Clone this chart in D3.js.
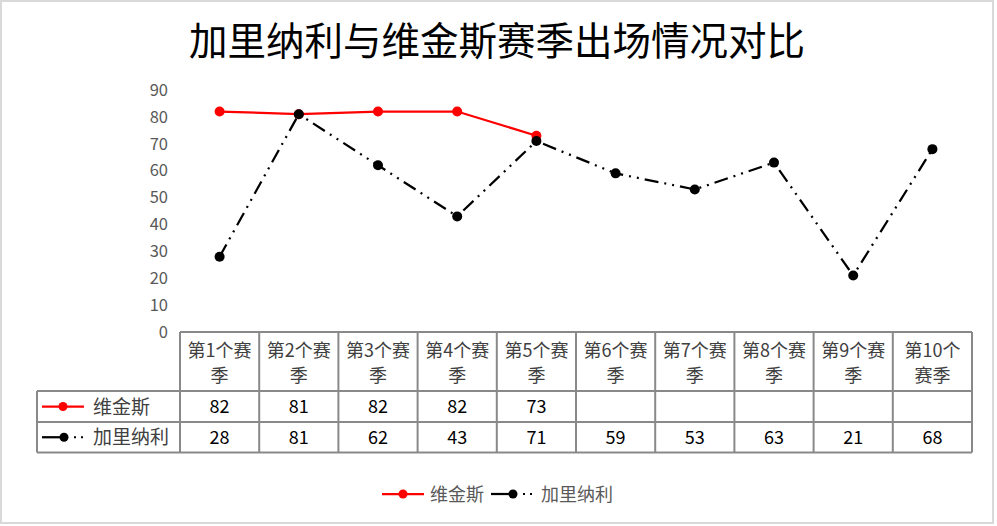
<!DOCTYPE html>
<html><head><meta charset="utf-8">
<script src="https://cdn.jsdelivr.net/npm/d3@7"></script>
<style>body{margin:0;background:#fff}svg{display:block}</style>
</head><body>
<svg id="c" width="997" height="526"></svg>
<script>
const title = "加里纳利与维金斯赛季出场情况对比";
const categories = ["第1个赛季","第2个赛季","第3个赛季","第4个赛季","第5个赛季","第6个赛季","第7个赛季","第8个赛季","第9个赛季","第10个赛季"];
const catLines = [["第1个赛","季"],["第2个赛","季"],["第3个赛","季"],["第4个赛","季"],["第5个赛","季"],["第6个赛","季"],["第7个赛","季"],["第8个赛","季"],["第9个赛","季"],["第10个","赛季"]];
const wigginsName = "维金斯";
const wiggins = [82,81,82,82,73,null,null,null,null,null];
const gallinariName = "加里纳利";
const gallinari = [28,81,62,43,71,59,53,63,21,68];
const yTicks = [0,10,20,30,40,50,60,70,80,90];

const svg = d3.select("#c");
const font = "'Noto Sans CJK SC','Noto Sans',sans-serif";
svg.append("rect").attr("x",1).attr("y",1).attr("width",992).attr("height",522).attr("fill","#fff").attr("stroke","#d9d9d9").attr("stroke-width",2);

svg.append("text").attr("x",497).attr("y",55).attr("text-anchor","middle")
  .attr("font-family","'Noto Sans CJK SC',serif").attr("font-size",38.5).attr("fill","#000").text(title);

const pLeft=180, pRight=972, pTop=90, pBottom=332;
const x = d3.scaleBand().domain(categories).range([pLeft,pRight]);
const y = d3.scaleLinear().domain([0,90]).range([pBottom,pTop]);

const ya = svg.append("g").attr("transform",`translate(${pLeft-12},0)`)
  .call(d3.axisLeft(y).tickValues(yTicks).tickSize(0).tickPadding(0));
ya.select(".domain").remove();
ya.selectAll("text").attr("font-family",font).attr("font-size",16.5).attr("fill","#595959");

const cx = c => x(c)+x.bandwidth()/2;
const lineG = d3.line().x((d,i)=>cx(categories[i])).y(d=>y(d));
svg.append("path").datum(gallinari).attr("d",lineG).attr("fill","none").attr("stroke","#000")
  .attr("stroke-width",2.25).attr("stroke-dasharray","14,6,2,6,2,6");
const wData = wiggins.map((v,i)=>({v,i})).filter(d=>d.v!=null);
const lineW = d3.line().x(d=>cx(categories[d.i])).y(d=>y(d.v));
svg.append("path").datum(wData).attr("d",lineW).attr("fill","none").attr("stroke","#ff0000").attr("stroke-width",2.25);
svg.selectAll(".pw").data(wData).join("circle").attr("cx",d=>cx(categories[d.i])).attr("cy",d=>y(d.v)).attr("r",5).attr("fill","#ff0000");
svg.selectAll(".pg").data(gallinari).join("circle").attr("cx",(d,i)=>cx(categories[i])).attr("cy",d=>y(d)).attr("r",5).attr("fill","#000");

const rows = [pBottom, 391, 422, 452.5];
const tableLeft = 37;
const tg = svg.append("g").attr("fill","none").attr("stroke","#898989").attr("stroke-width",2);
tg.append("line").attr("x1",pLeft).attr("x2",pRight).attr("y1",rows[0]).attr("y2",rows[0]);
tg.append("line").attr("x1",tableLeft).attr("x2",pRight).attr("y1",rows[1]).attr("y2",rows[1]);
tg.append("line").attr("x1",tableLeft).attr("x2",pRight).attr("y1",rows[2]).attr("y2",rows[2]);
tg.append("line").attr("x1",tableLeft).attr("x2",pRight).attr("y1",rows[3]).attr("y2",rows[3]);
tg.append("line").attr("x1",tableLeft).attr("x2",tableLeft).attr("y1",rows[1]).attr("y2",rows[3]);
categories.forEach(c=>{
  tg.append("line").attr("x1",x(c)).attr("x2",x(c)).attr("y1",rows[0]).attr("y2",rows[3]);
});
tg.append("line").attr("x1",pRight).attr("x2",pRight).attr("y1",rows[0]).attr("y2",rows[3]);

catLines.forEach((ls,i)=>{
  ls.forEach((t,j)=>{
    svg.append("text").attr("x",cx(categories[i])).attr("y",rows[0]+25+j*25).attr("text-anchor","middle")
      .attr("font-family",font).attr("font-size",18).attr("fill","#404040").text(t);
  });
});
[wiggins,gallinari].forEach((arr,r)=>{
  arr.forEach((v,i)=>{
    if(v==null) return;
    svg.append("text").attr("x",cx(categories[i])).attr("y",(rows[r+1]+rows[r+2])/2+6.5).attr("text-anchor","middle")
      .attr("font-family",font).attr("font-size",18).attr("fill","#000").text(v);
  });
});
function key(g, x0, yy, color, dashed){
  if(dashed){
    g.append("line").attr("x1",x0).attr("x2",x0+20).attr("y1",yy).attr("y2",yy).attr("stroke",color).attr("stroke-width",2.25);
    g.append("circle").attr("cx",x0+22).attr("cy",yy).attr("r",4.5).attr("fill",color);
    [32,39].forEach(dx=>g.append("rect").attr("x",x0+dx).attr("y",yy-1).attr("width",2).attr("height",2).attr("fill",color));
  } else {
    g.append("line").attr("x1",x0).attr("x2",x0+42).attr("y1",yy).attr("y2",yy).attr("stroke",color).attr("stroke-width",2.25);
    g.append("circle").attr("cx",x0+21).attr("cy",yy).attr("r",4.5).attr("fill",color);
  }
}
const kg = svg.append("g");
key(kg, 42, (rows[1]+rows[2])/2, "#ff0000", false);
key(kg, 42, (rows[2]+rows[3])/2, "#000", true);
svg.append("text").attr("x",93).attr("y",(rows[1]+rows[2])/2+7).attr("font-family",font).attr("font-size",19).attr("fill","#404040").text(wigginsName);
svg.append("text").attr("x",93).attr("y",(rows[2]+rows[3])/2+7).attr("font-family",font).attr("font-size",19).attr("fill","#404040").text(gallinariName);

key(kg, 382, 494, "#ff0000", false);
svg.append("text").attr("x",430).attr("y",500.5).attr("font-family",font).attr("font-size",18).attr("fill","#595959").text(wigginsName);
key(kg, 491, 494, "#000", true);
svg.append("text").attr("x",541).attr("y",500.5).attr("font-family",font).attr("font-size",18).attr("fill","#595959").text(gallinariName);
</script>
</body></html>
